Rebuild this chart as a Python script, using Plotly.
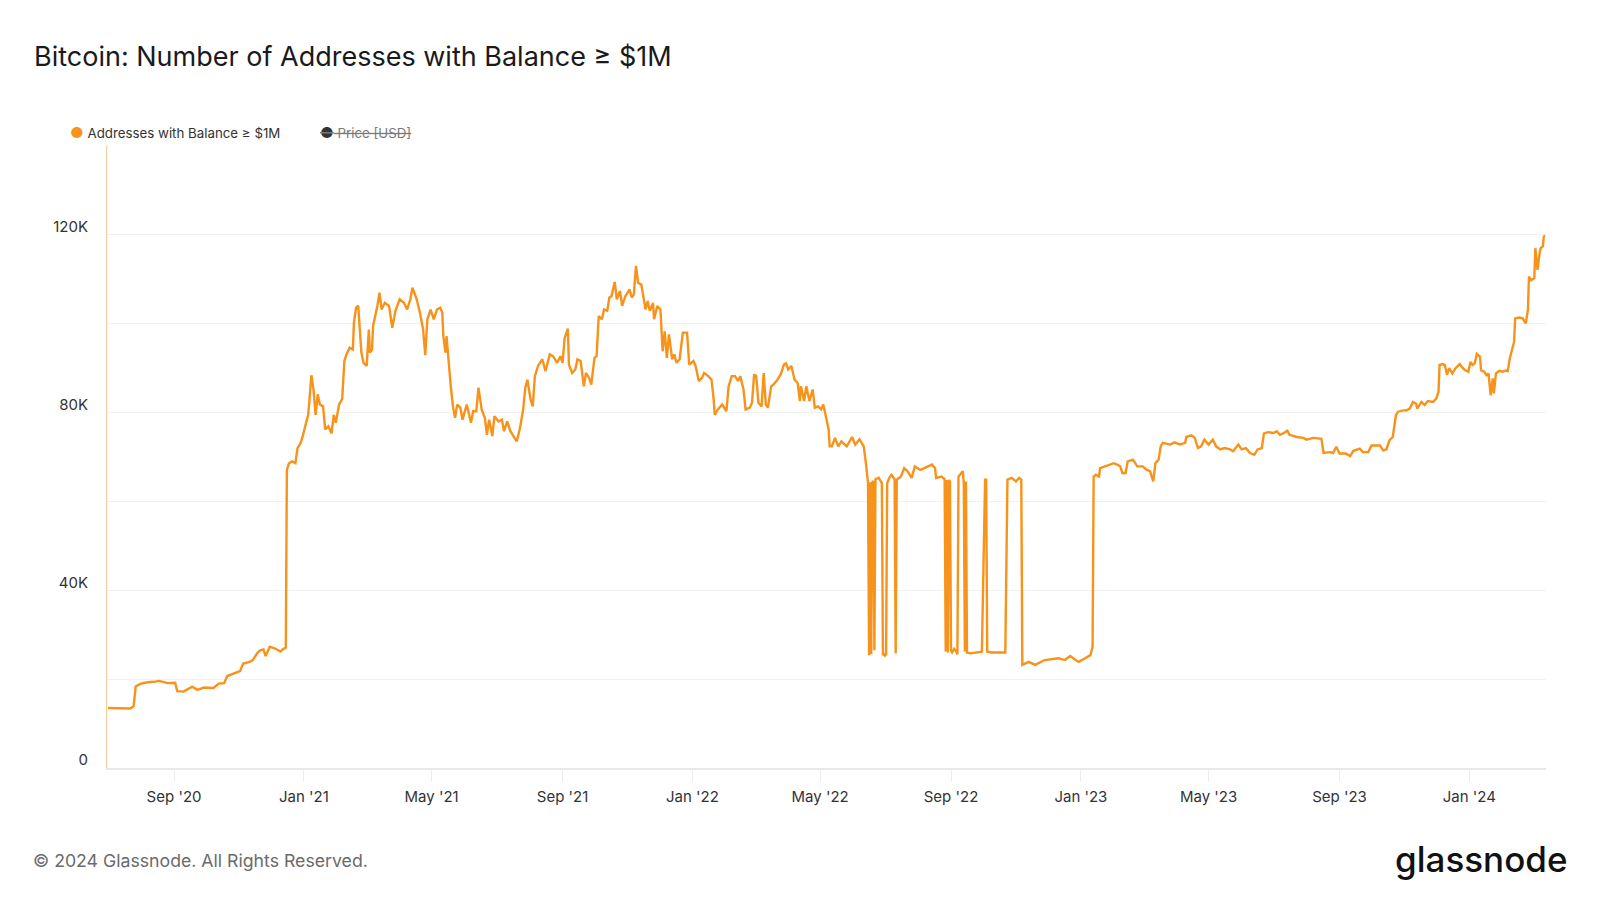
import plotly.graph_objects as go

# ---------------- data (values in thousands of addresses) ----------------
dates_2020 = ["2020-07-01", "2020-07-12", "2020-07-22", "2020-07-25", "2020-07-27", "2020-08-01", "2020-08-07",
              "2020-08-13", "2020-08-18", "2020-08-26", "2020-09-02", "2020-09-04", "2020-09-10", "2020-09-18",
              "2020-09-23", "2020-09-29", "2020-10-08", "2020-10-13", "2020-10-18", "2020-10-21", "2020-10-27",
              "2020-11-02", "2020-11-05", "2020-11-11", "2020-11-14", "2020-11-18", "2020-11-21", "2020-11-24",
              "2020-11-26", "2020-11-30", "2020-12-05", "2020-12-10", "2020-12-12", "2020-12-15", "2020-12-16",
              "2020-12-18", "2020-12-21", "2020-12-24", "2020-12-26", "2020-12-29", "2020-12-31"]
vals_2020 = [13.5, 13.4, 13.4, 13.9, 18.4, 19.0, 19.3,
             19.4, 19.6, 19.1, 19.2, 17.3, 17.2, 18.3,
             17.6, 18.1, 18.0, 19.0, 19.1, 20.7, 21.3,
             21.8, 23.5, 23.9, 24.3, 25.8, 26.5, 26.7,
             25.2, 27.3, 26.9, 26.2, 26.7, 27.1, 67.1,
             68.6, 69.0, 68.6, 72.0, 73.2, 74.8]

dates_2021 = ["2021-01-02", "2021-01-05", "2021-01-06", "2021-01-08", "2021-01-10", "2021-01-12", "2021-01-14",
              "2021-01-16", "2021-01-19", "2021-01-21", "2021-01-24", "2021-01-27", "2021-01-29", "2021-01-31",
              "2021-02-03", "2021-02-06", "2021-02-08", "2021-02-10", "2021-02-13", "2021-02-16", "2021-02-17",
              "2021-02-19", "2021-02-21", "2021-02-24", "2021-02-26", "2021-03-01", "2021-03-03", "2021-03-04",
              "2021-03-06", "2021-03-07", "2021-03-11", "2021-03-13", "2021-03-15", "2021-03-18", "2021-03-22",
              "2021-03-25", "2021-03-28", "2021-04-01", "2021-04-05", "2021-04-08", "2021-04-11", "2021-04-13",
              "2021-04-17", "2021-04-20", "2021-04-23", "2021-04-25", "2021-04-27", "2021-04-30", "2021-05-03",
              "2021-05-06", "2021-05-09", "2021-05-11", "2021-05-12", "2021-05-14", "2021-05-15", "2021-05-17",
              "2021-05-19", "2021-05-21", "2021-05-23", "2021-05-25", "2021-05-28", "2021-05-30", "2021-06-03",
              "2021-06-07", "2021-06-09", "2021-06-12", "2021-06-14", "2021-06-17", "2021-06-20", "2021-06-22",
              "2021-06-24", "2021-06-27", "2021-06-29", "2021-07-03", "2021-07-06", "2021-07-08", "2021-07-11",
              "2021-07-14", "2021-07-17", "2021-07-20", "2021-07-23", "2021-07-26", "2021-07-28", "2021-07-30",
              "2021-08-02", "2021-08-04", "2021-08-06", "2021-08-09", "2021-08-13", "2021-08-16", "2021-08-20",
              "2021-08-23", "2021-08-27", "2021-08-30", "2021-09-01", "2021-09-03", "2021-09-06", "2021-09-07",
              "2021-09-10", "2021-09-13", "2021-09-15", "2021-09-18", "2021-09-21", "2021-09-23", "2021-09-26",
              "2021-09-28", "2021-10-01", "2021-10-03", "2021-10-05", "2021-10-08", "2021-10-10", "2021-10-13",
              "2021-10-15", "2021-10-17", "2021-10-20", "2021-10-22", "2021-10-25", "2021-10-27", "2021-10-30",
              "2021-11-03", "2021-11-05", "2021-11-07", "2021-11-09", "2021-11-11", "2021-11-14", "2021-11-16",
              "2021-11-18", "2021-11-20", "2021-11-22", "2021-11-25", "2021-11-26", "2021-11-29", "2021-12-02",
              "2021-12-04", "2021-12-06", "2021-12-08", "2021-12-10", "2021-12-13", "2021-12-15", "2021-12-17",
              "2021-12-20", "2021-12-23", "2021-12-27", "2021-12-29"]
vals_2021 = [76.9, 79.5, 82.2, 88.4, 85.2, 79.5, 84.1,
             81.8, 81.4, 76.2, 76.9, 75.3, 79.5, 77.7,
             81.8, 83.1, 91.6, 93.1, 94.6, 94.2, 100.2,
             103.6, 104.1, 93.5, 91.2, 90.5, 98.7, 93.5,
             94.2, 99.5, 104.0, 107.0, 103.2, 104.7, 104.0,
             99.1, 102.9, 105.5, 104.7, 103.2, 105.5, 108.1,
             105.5, 102.5, 98.7, 92.9, 101.0, 103.2, 101.0,
             103.2, 103.6, 102.5, 97.2, 93.5, 97.2, 90.5,
             85.9, 81.4, 78.8, 81.8, 81.1, 78.4, 81.8,
             77.7, 80.3, 80.3, 85.6, 80.7, 78.8, 75.0,
             78.4, 74.7, 79.2, 78.0, 78.4, 75.8, 78.0,
             75.8, 74.7, 73.5, 76.5, 80.7, 85.6, 87.4,
             82.9, 81.4, 88.2, 90.5, 92.0, 89.3, 93.1,
             92.7, 91.2, 92.7, 91.2, 96.8, 98.9, 90.8,
             88.9, 89.7, 92.0, 91.6, 85.9, 88.9, 87.8,
             86.3, 92.3, 92.7, 101.7, 101.0, 103.2, 102.9,
             105.9, 106.2, 109.4, 105.5, 107.4, 104.0, 106.2,
             107.7, 105.9, 106.6, 113.0, 109.2, 108.8, 105.5,
             103.2, 105.1, 102.9, 104.7, 101.0, 104.0, 103.2,
             93.8, 98.3, 92.3, 97.6, 92.0, 93.1, 91.2,
             92.0, 98.0, 98.0, 90.8]

dates_2022 = ["2022-01-02", "2022-01-04", "2022-01-07", "2022-01-10", "2022-01-12", "2022-01-16", "2022-01-19",
              "2022-01-21", "2022-01-22", "2022-01-25", "2022-01-29", "2022-02-02", "2022-02-04", "2022-02-07",
              "2022-02-10", "2022-02-13", "2022-02-15", "2022-02-18", "2022-02-20", "2022-02-24", "2022-02-26",
              "2022-02-28", "2022-03-02", "2022-03-04", "2022-03-07", "2022-03-09", "2022-03-11", "2022-03-13",
              "2022-03-16", "2022-03-18", "2022-03-21", "2022-03-25", "2022-03-28", "2022-03-30", "2022-04-01",
              "2022-04-04", "2022-04-07", "2022-04-10", "2022-04-12", "2022-04-13", "2022-04-16", "2022-04-18",
              "2022-04-21", "2022-04-24", "2022-04-26", "2022-04-29", "2022-05-02", "2022-05-04", "2022-05-06",
              "2022-05-09", "2022-05-10", "2022-05-12", "2022-05-15", "2022-05-18", "2022-05-21", "2022-05-26",
              "2022-05-31", "2022-06-03", "2022-06-07", "2022-06-11", "2022-06-13", "2022-06-14", "2022-06-15",
              "2022-06-16", "2022-06-17", "2022-06-18", "2022-06-19", "2022-06-20", "2022-06-21", "2022-06-22",
              "2022-06-25", "2022-06-27", "2022-06-28", "2022-06-29", "2022-06-30", "2022-07-01", "2022-07-02",
              "2022-07-03", "2022-07-05", "2022-07-07", "2022-07-09", "2022-07-10", "2022-07-11", "2022-07-12",
              "2022-07-16", "2022-07-19", "2022-07-22", "2022-07-26", "2022-07-29", "2022-08-03", "2022-08-07",
              "2022-08-14", "2022-08-17", "2022-08-18", "2022-08-23", "2022-08-25", "2022-08-26", "2022-08-27",
              "2022-08-28", "2022-08-29", "2022-08-30", "2022-08-31", "2022-09-01", "2022-09-02", "2022-09-04",
              "2022-09-06", "2022-09-07", "2022-09-08", "2022-09-12", "2022-09-13", "2022-09-14", "2022-09-15",
              "2022-09-16", "2022-09-19", "2022-09-24", "2022-09-30", "2022-10-03", "2022-10-04", "2022-10-05",
              "2022-10-09", "2022-10-16", "2022-10-22", "2022-10-24", "2022-10-28", "2022-11-01", "2022-11-04",
              "2022-11-06", "2022-11-07", "2022-11-13", "2022-11-19", "2022-11-28", "2022-12-11", "2022-12-17",
              "2022-12-22", "2022-12-27", "2022-12-30"]
vals_2022 = [91.6, 90.5, 87.1, 87.8, 88.9, 88.2, 87.4,
             82.9, 79.5, 80.7, 81.8, 80.3, 85.9, 88.2,
             88.2, 87.1, 88.2, 85.2, 80.7, 81.1, 82.2,
             88.6, 88.2, 82.2, 81.4, 88.9, 81.8, 81.1,
             85.9, 86.3, 87.1, 88.6, 90.8, 91.1, 89.7,
             90.5, 87.4, 86.6, 82.6, 85.9, 82.6, 85.9,
             82.6, 85.2, 81.1, 81.4, 80.7, 81.8, 79.2,
             76.2, 72.4, 72.4, 74.3, 72.4, 73.5, 72.4,
             74.5, 72.8, 74.0, 72.4, 68.6, 66.0, 64.1,
             25.4, 64.3, 25.6, 64.3, 64.6, 26.5, 65.0,
             65.3, 64.5, 64.1, 25.4, 25.6, 25.3, 25.6,
             64.1, 65.3, 66.0, 65.3, 65.0, 25.8, 64.9,
             65.6, 67.5, 66.8, 65.3, 67.9, 67.1, 67.5,
             68.3, 67.5, 65.3, 65.6, 65.3, 65.0, 26.2,
             64.8, 26.0, 64.8, 64.5, 26.4, 26.0, 26.8,
             26.2, 25.6, 65.6, 66.8, 64.1, 26.2, 64.5,
             26.0, 25.8, 26.0, 26.2, 64.9, 64.9, 26.2,
             26.0, 26.0, 26.0, 64.9, 65.3, 64.5, 65.3,
             64.9, 23.2, 23.9, 23.2, 24.3, 24.7, 24.3,
             25.2, 24.3, 23.9]

dates_2023 = ["2023-01-05", "2023-01-10", "2023-01-12", "2023-01-13", "2023-01-15", "2023-01-18", "2023-01-19",
              "2023-01-24", "2023-01-29", "2023-02-01", "2023-02-04", "2023-02-07", "2023-02-09", "2023-02-12",
              "2023-02-14", "2023-02-19", "2023-02-23", "2023-02-28", "2023-03-04", "2023-03-07", "2023-03-10",
              "2023-03-12", "2023-03-15", "2023-03-17", "2023-03-19", "2023-03-26", "2023-03-30", "2023-04-04",
              "2023-04-09", "2023-04-10", "2023-04-15", "2023-04-18", "2023-04-21", "2023-04-24", "2023-04-27",
              "2023-05-01", "2023-05-05", "2023-05-08", "2023-05-12", "2023-05-16", "2023-05-21", "2023-05-24",
              "2023-05-29", "2023-06-01", "2023-06-05", "2023-06-09", "2023-06-13", "2023-06-16", "2023-06-20",
              "2023-06-22", "2023-06-26", "2023-07-01", "2023-07-04", "2023-07-07", "2023-07-10", "2023-07-14",
              "2023-07-16", "2023-07-23", "2023-07-29", "2023-08-01", "2023-08-07", "2023-08-15", "2023-08-17",
              "2023-08-23", "2023-08-26", "2023-08-29", "2023-09-01", "2023-09-07", "2023-09-11", "2023-09-14",
              "2023-09-20", "2023-09-23", "2023-09-28", "2023-10-01", "2023-10-06", "2023-10-09", "2023-10-12",
              "2023-10-15", "2023-10-18", "2023-10-21", "2023-10-24", "2023-10-26", "2023-10-31", "2023-11-03",
              "2023-11-06", "2023-11-09", "2023-11-12", "2023-11-13", "2023-11-17", "2023-11-20", "2023-11-23",
              "2023-11-28", "2023-12-01", "2023-12-03", "2023-12-04", "2023-12-07", "2023-12-09", "2023-12-11",
              "2023-12-13", "2023-12-16", "2023-12-19", "2023-12-23", "2023-12-26", "2023-12-28", "2023-12-31"]
vals_2023 = [24.7, 25.4, 27.3, 65.6, 66.0, 65.6, 67.5,
             67.9, 68.3, 68.6, 68.3, 67.9, 66.4, 66.4,
             69.0, 69.4, 67.9, 67.9, 67.1, 66.8, 64.5,
             68.6, 69.4, 72.4, 73.2, 72.8, 73.3, 72.8,
             73.2, 74.5, 74.9, 74.3, 72.0, 72.4, 73.9,
             72.8, 73.9, 72.4, 71.7, 72.0, 71.7, 71.3,
             72.8, 71.7, 72.0, 70.9, 70.5, 71.7, 72.0,
             75.3, 75.6, 75.4, 75.8, 75.0, 75.3, 75.9,
             75.0, 74.5, 74.3, 73.9, 74.3, 74.1, 70.9,
             71.1, 70.9, 72.3, 70.8, 70.8, 70.2, 71.4,
             71.9, 71.1, 71.1, 72.6, 72.6, 72.6, 71.5,
             71.7, 73.8, 74.5, 79.4, 80.2, 80.5, 80.5,
             80.9, 82.4, 82.0, 80.9, 82.4, 81.7, 82.6,
             82.4, 83.2, 84.7, 90.7, 90.9, 90.7, 88.5,
             90.0, 88.8, 90.0, 90.9, 90.0, 89.5, 89.2]

dates_2024 = ["2024-01-02", "2024-01-04", "2024-01-06", "2024-01-08", "2024-01-11", "2024-01-12", "2024-01-15",
              "2024-01-17", "2024-01-19", "2024-01-21", "2024-01-23", "2024-01-24", "2024-01-26", "2024-01-29",
              "2024-02-01", "2024-02-05", "2024-02-06", "2024-02-08", "2024-02-11", "2024-02-12", "2024-02-13",
              "2024-02-17", "2024-02-20", "2024-02-23", "2024-02-25", "2024-02-26", "2024-02-28", "2024-03-02",
              "2024-03-03", "2024-03-05", "2024-03-07", "2024-03-08", "2024-03-10", "2024-03-11", "2024-03-12"]
vals_2024 = [91.4, 90.7, 91.1, 93.2, 92.6, 89.5, 89.2,
             88.4, 88.8, 83.9, 87.7, 84.3, 88.8, 89.4,
             89.2, 89.5, 89.2, 92.2, 94.8, 95.9, 101.2,
             101.4, 101.2, 100.1, 103.1, 110.6, 109.8, 110.2,
             117.0, 112.1, 115.9, 117.0, 117.4, 119.8, 119.6]

y_tickvals = [0, 20000, 40000, 60000, 80000, 100000, 120000, 140000]
y_ticktext = ["0", "", "40K", "", "80K", "", "120K", ""]
x_tickvals = ["2020-09-01", "2021-01-01", "2021-05-01", "2021-09-01", "2022-01-01", "2022-05-01",
              "2022-09-01", "2023-01-01", "2023-05-01", "2023-09-01", "2024-01-01"]
x_ticktext = ["Sep '20", "Jan '21", "May '21", "Sep '21", "Jan '22", "May '22",
              "Sep '22", "Jan '23", "May '23", "Sep '23", "Jan '24"]

dates = dates_2020 + dates_2021 + dates_2022 + dates_2023 + dates_2024
values = [v * 1000 for v in (vals_2020 + vals_2021 + vals_2022 + vals_2023 + vals_2024)]

# ---------------- figure ----------------
W, H = 1600, 900
ML, MR, MT, MB = 107, 54, 146, 132
PW, PH = W - ML - MR, H - MT - MB
ORANGE = "#F7931A"
FONT = "Inter"

def px_x(x):
    return (x - ML) / PW

def px_y(y):
    return (H - MB - y) / PH

fig = go.Figure()
fig.add_trace(go.Scatter(x=dates, y=values, mode="lines", line=dict(color=ORANGE, width=2.4),
                         showlegend=False, name="Addresses with Balance ≥ $1M"))
# legend entries (dot drawn in the label so it sits close to the text)
fig.add_trace(go.Scatter(x=[None], y=[None], mode="markers",
                         name='<span style="color:#F7931A;font-size:15px">●</span> Addresses with Balance ≥ $1M',
                         marker=dict(color="rgba(0,0,0,0)", size=1)))
fig.add_trace(go.Scatter(x=[None], y=[None], mode="markers",
                         name='<span style="color:#7a7a7a"><s><span style="color:#333333;font-size:15px">●</span> Price [USD]</s></span>',
                         marker=dict(color="rgba(0,0,0,0)", size=1)))

fig.update_layout(
    width=W, height=H,
    margin=dict(l=ML, r=MR, t=MT, b=MB, autoexpand=False),
    paper_bgcolor="white", plot_bgcolor="white",
    font=dict(family=FONT, color="#333333", size=15),
    title=dict(text="Bitcoin: Number of Addresses with Balance ≥ $1M",
               x=34 / W, xref="container", xanchor="left",
               y=1 - 57 / H, yref="container", yanchor="middle",
               font=dict(family=FONT, size=27, color="#1a1a1a")),
    legend=dict(orientation="h", x=30 / W, xref="container", xanchor="left",
                y=1 - 133 / H, yref="container", yanchor="middle",
                font=dict(family=FONT, size=13.3, color="#333333"),
                itemwidth=30, entrywidth=205, entrywidthmode="pixels",
                bgcolor="rgba(0,0,0,0)"),
    hovermode=False,
)

fig.update_xaxes(
    type="date", range=["2020-06-30", "2024-03-13"],
    tickvals=x_tickvals, ticktext=x_ticktext,
    showgrid=False, showline=True, linecolor="#e8e8e8", linewidth=2,
    ticks="outside", ticklen=12, tickcolor="#eeeeee", tickwidth=1,
    tickfont=dict(family=FONT, size=15, color="#333333"),
    ticklabelstandoff=2, zeroline=False,
)
fig.update_yaxes(
    range=[0, 140000], tickvals=y_tickvals, ticktext=y_ticktext,
    showgrid=True, gridcolor="#f2f2f2", gridwidth=1,
    showline=True, linecolor="rgba(247,147,26,0.45)", linewidth=1,
    ticks="", tickfont=dict(family=FONT, size=15, color="#333333"),
    ticklabelstandoff=15, ticklabelshift=-8, zeroline=False,
)

fig.add_annotation(text="© 2024 Glassnode. All Rights Reserved.", xref="paper", yref="paper",
                   x=px_x(31), y=px_y(860), xanchor="left", yanchor="middle", showarrow=False,
                   font=dict(family=FONT, size=17.7, color="#6b6b6b"))
fig.add_annotation(text="glassnode", xref="paper", yref="paper",
                   x=px_x(1569), y=px_y(859), xanchor="right", yanchor="middle", showarrow=False,
                   font=dict(family=FONT, size=35, color="#111111", weight=500))

fig.write_html("out.html", config={"displayModeBar": False},
               post_script="document.body.style.margin='0px';")
